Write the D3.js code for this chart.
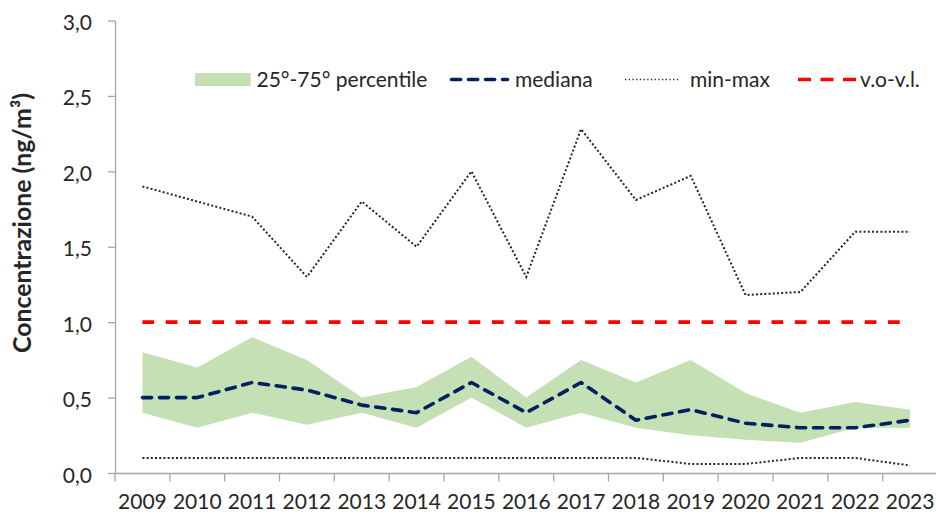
<!DOCTYPE html>
<html>
<head>
<meta charset="utf-8">
<script src="https://cdn.jsdelivr.net/npm/d3@7"></script>
<style>
  body { margin: 0; background: #ffffff; }
  svg { display: block; font-family: Lato, "Noto Sans", sans-serif; }
</style>
</head>
<body>
<svg id="chart" width="936" height="514"></svg>
<script>
// Annual statistics of the concentration (ng/m³), one entry per year
const years = [2009, 2010, 2011, 2012, 2013, 2014, 2015, 2016, 2017, 2018, 2019, 2020, 2021, 2022, 2023];
const maxValues    = [1.90, 1.80, 1.70, 1.30, 1.80, 1.50, 2.00, 1.30, 2.28, 1.81, 1.97, 1.18, 1.20, 1.60, 1.60];
const minValues    = [0.10, 0.10, 0.10, 0.10, 0.10, 0.10, 0.10, 0.10, 0.10, 0.10, 0.06, 0.06, 0.10, 0.10, 0.05];
const p75Values    = [0.80, 0.70, 0.90, 0.75, 0.50, 0.57, 0.77, 0.50, 0.75, 0.60, 0.75, 0.53, 0.40, 0.47, 0.42];
const p25Values    = [0.40, 0.30, 0.40, 0.32, 0.40, 0.30, 0.50, 0.30, 0.40, 0.30, 0.25, 0.22, 0.20, 0.30, 0.30];
const medianValues = [0.50, 0.50, 0.60, 0.55, 0.45, 0.40, 0.60, 0.40, 0.60, 0.35, 0.42, 0.33, 0.30, 0.30, 0.35];
const limitValue = 1.0;   // v.o-v.l.
const yTicks = [0, 0.5, 1, 1.5, 2, 2.5, 3];
const legendLabels = ["25°-75° percentile", "mediana", "min-max", "v.o-v.l."];
const yTitle = "Concentrazione (ng/m³)";

const textColor = "#262626";
const axisColor = "#a6a6a6";
const bandColor = "#c5e0b4";
const medianColor = "#002060";
const limitColor = "#ff0000";
const rangeColor = "#262626";

const svg = d3.select("#chart");

const x = d3.scaleBand().domain(years).range([115, 937.5]).paddingInner(0).paddingOuter(0);
const cx = yr => x(yr) + x.bandwidth() / 2;
const y = d3.scaleLinear().domain([0, 3]).range([473, 20.5]);

const itLocale = d3.formatLocale({ decimal: ",", thousands: ".", grouping: [3], currency: ["€", ""] });
const fmt = itLocale.format(".1f");

const rows = years.map((yr, i) => ({
  yr, max: maxValues[i], min: minValues[i], p25: p25Values[i], p75: p75Values[i], med: medianValues[i]
}));

// 25°-75° percentile band
svg.append("path")
  .datum(rows)
  .attr("fill", bandColor)
  .attr("d", d3.area().x(d => cx(d.yr)).y0(d => y(d.p25)).y1(d => y(d.p75)));

// axes
const yAxis = svg.append("g")
  .attr("transform", "translate(115,0)")
  .call(d3.axisLeft(y).tickValues(yTicks).tickSize(7).tickSizeOuter(0).tickPadding(16).tickFormat(fmt));
yAxis.select(".domain").attr("stroke", axisColor).attr("stroke-width", 1.3);
yAxis.selectAll(".tick line").attr("stroke", axisColor).attr("stroke-width", 1.3);
yAxis.selectAll(".tick text")
  .attr("fill", textColor).attr("font-size", 21).attr("font-family", "Lato, sans-serif")
  .attr("dy", "0.43em");

const xAxis = svg.append("g")
  .attr("transform", `translate(0,${y(0)})`)
  .call(d3.axisBottom(x).tickSize(0).tickSizeOuter(0).tickPadding(21.5));
xAxis.select(".domain").attr("stroke", axisColor).attr("stroke-width", 1.3);
xAxis.selectAll(".tick text")
  .attr("fill", textColor).attr("font-size", 21).attr("font-family", "Lato, sans-serif");

// category boundary ticks
const bounds = years.map(yr => x(yr)).concat([x.range()[1]]);
xAxis.selectAll("line.bound")
  .data(bounds)
  .join("line")
  .attr("class", "bound")
  .attr("x1", d => d).attr("x2", d => d)
  .attr("y1", 0).attr("y2", 8.5)
  .attr("stroke", axisColor).attr("stroke-width", 1.3);

// limit value
svg.append("line")
  .attr("x1", cx(years[0])).attr("x2", cx(years[years.length - 1]))
  .attr("y1", y(limitValue)).attr("y2", y(limitValue))
  .attr("stroke", limitColor).attr("stroke-width", 3.6)
  .attr("stroke-dasharray", "11.7,11.6");

// min and max lines
const lineFor = key => d3.line().x(d => cx(d.yr)).y(d => y(d[key]));
["max", "min"].forEach(key => {
  svg.append("path")
    .datum(rows)
    .attr("fill", "none")
    .attr("stroke", rangeColor)
    .attr("stroke-width", 2)
    .attr("stroke-dasharray", "2,2.2")
    .attr("d", lineFor(key));
});

// median
svg.append("path")
  .datum(rows)
  .attr("fill", "none")
  .attr("stroke", medianColor)
  .attr("stroke-width", 3.6)
  .attr("stroke-linecap", "round")
  .attr("stroke-linejoin", "round")
  .attr("stroke-dasharray", "9.2,7.8")
  .attr("d", lineFor("med"));

// y axis title
svg.append("text")
  .attr("transform", "translate(30.5,223) rotate(-90)")
  .attr("text-anchor", "middle")
  .attr("font-family", "Lato, sans-serif")
  .attr("font-weight", "bold")
  .attr("font-size", 24)
  .attr("fill", textColor)
  .attr("textLength", 260)
  .attr("lengthAdjust", "spacingAndGlyphs")
  .text(yTitle);

// legend
const legend = svg.append("g").attr("font-family", "Lato, sans-serif").attr("font-size", 21).attr("fill", textColor);
const ly = 79.5;

legend.append("rect").attr("x", 195).attr("y", 73).attr("width", 55.5).attr("height", 13).attr("fill", bandColor);
legend.append("text").attr("x", 256.5).attr("y", ly + 7).text(legendLabels[0]);

legend.append("line").attr("x1", 451.5).attr("x2", 507.5).attr("y1", ly).attr("y2", ly)
  .attr("stroke", medianColor).attr("stroke-width", 3.6).attr("stroke-linecap", "round")
  .attr("stroke-dasharray", "9.2,7.8");
legend.append("text").attr("x", 515).attr("y", ly + 7).text(legendLabels[1]);

legend.append("line").attr("x1", 625).attr("x2", 679).attr("y1", ly).attr("y2", ly)
  .attr("stroke", rangeColor).attr("stroke-width", 1.3).attr("stroke-dasharray", "1.3,2.4");
legend.append("text").attr("x", 690).attr("y", ly + 7).text(legendLabels[2]);

legend.append("line").attr("x1", 798).attr("x2", 856).attr("y1", ly).attr("y2", ly)
  .attr("stroke", limitColor).attr("stroke-width", 3.6).attr("stroke-dasharray", "13,9.5");
legend.append("text").attr("x", 860).attr("y", ly + 7).text(legendLabels[3]);
</script>
</body>
</html>
